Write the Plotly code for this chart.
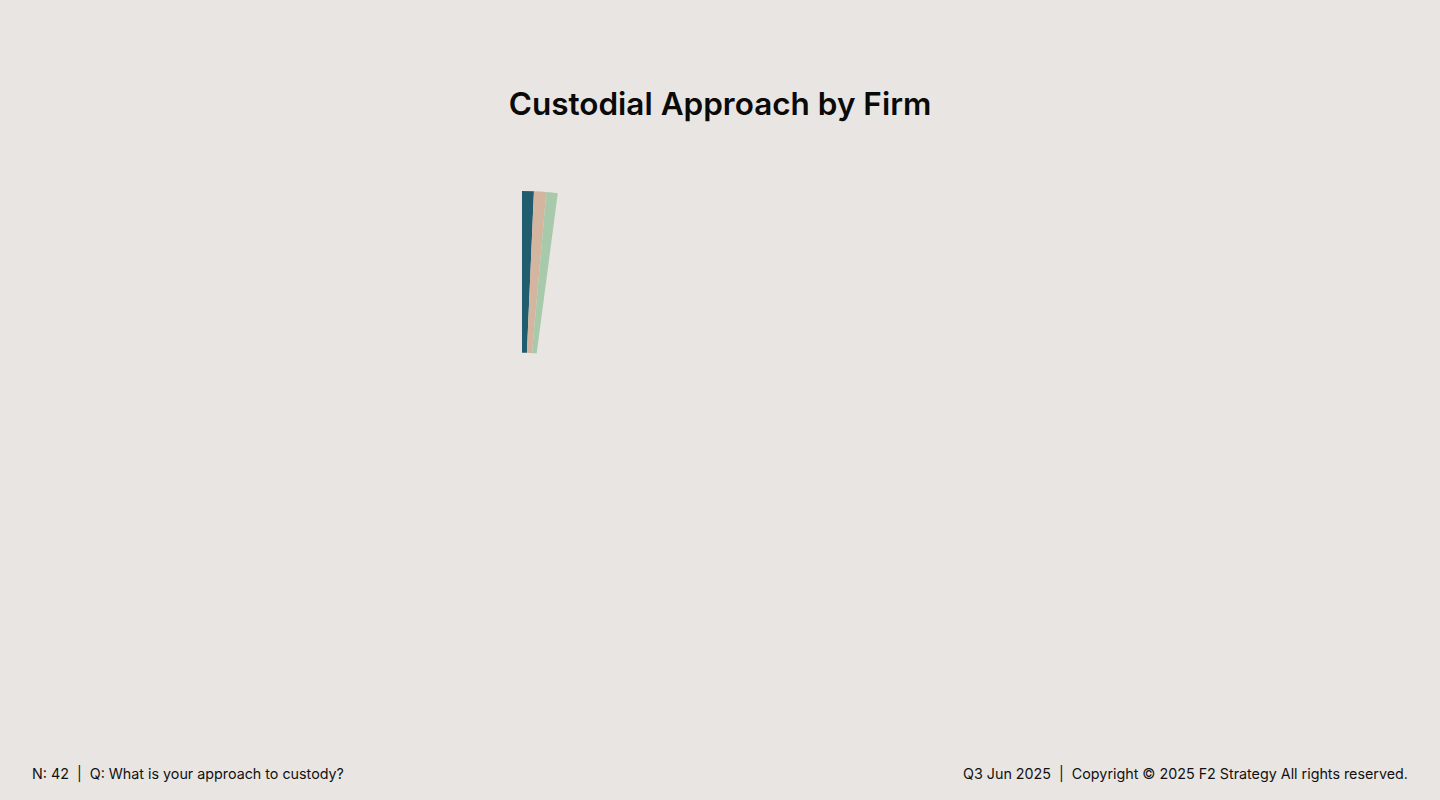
import plotly.graph_objects as go

# slices caught at the very start of the sweep (values in degrees of the ring);
# the rest of the ring is still empty
approaches = ['Self-custody', 'Third-party custodian', 'Hybrid', '(not yet drawn)']
sweep_deg = [2.5, 2.6, 2.4, 352.5]
slice_colors = ['#215d6e', '#d4b5a0', '#a8c9aa', 'rgba(0,0,0,0)']

title_text = 'Custodial Approach by Firm'
footer_left = 'N: 42  |  Q: What is your approach to custody?'
footer_right = 'Q3 Jun 2025  |  Copyright \u00a9 2025 F2 Strategy All rights reserved.'

bg = '#e9e5e2'
W, H = 1440, 800

# donut centre / radius in pixels
cx, cy, rad = 522, 465, 274

fig = go.Figure(go.Pie(
    labels=approaches,
    values=sweep_deg,
    hole=0.41,
    sort=False,
    direction='clockwise',
    rotation=0,
    marker=dict(colors=slice_colors, line=dict(width=0)),
    textinfo='none',
    hoverinfo='skip',
    showlegend=False,
    domain=dict(x=[(cx - rad) / W, (cx + rad) / W], y=[1 - (cy + rad) / H, 1 - (cy - rad) / H]),
))

fig.update_layout(
    width=W, height=H,
    margin=dict(l=0, r=0, t=0, b=0),
    paper_bgcolor=bg, plot_bgcolor=bg,
    font=dict(family='Inter, Lato, sans-serif', color='#111111'),
    title=dict(text=title_text, x=0.5, xanchor='center', y=1 - 104 / H, yanchor='middle',
               font=dict(size=31.5, color='#0a0a0a', family='Inter, Lato, sans-serif', weight=600)),
    annotations=[
        dict(text=footer_left, xref='paper', yref='paper', x=30 / W, y=1 - 774 / H,
             xanchor='left', yanchor='middle', showarrow=False, font=dict(size=14.3, color='#111111')),
        dict(text=footer_right, xref='paper', yref='paper', x=1410 / W, y=1 - 774 / H,
             xanchor='right', yanchor='middle', showarrow=False, font=dict(size=14.3, color='#111111')),
    ],
)

# page body: no default margin, same background as the figure
fig.write_html("out.html", config=dict(displayModeBar=False), post_script=(
    "document.body.style.margin='0';"
    "document.body.style.overflow='hidden';"
    "document.body.style.background='" + bg + "';"
))
